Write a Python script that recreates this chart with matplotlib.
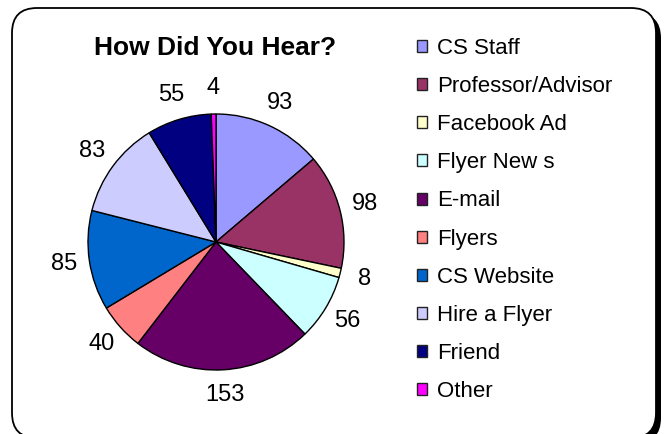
import matplotlib
matplotlib.use("Agg")
import matplotlib.pyplot as plt
from matplotlib.patches import FancyBboxPatch, Rectangle

plt.rcParams['font.family'] = ['Liberation Sans', 'DejaVu Sans']

# data
sources = ["CS Staff", "Professor/Advisor", "Facebook Ad", "Flyer New s", "E-mail",
           "Flyers", "CS Website", "Hire a Flyer", "Friend", "Other"]
counts = [93, 98, 8, 56, 153, 40, 85, 83, 55, 4]
colors = ["#9999FF", "#993366", "#FFFFCC", "#CCFFFF", "#660066",
          "#FF8080", "#0066CC", "#CCCCFF", "#000080", "#FF00FF"]

W, H = 664, 434
fig = plt.figure(figsize=(W / 100, H / 100), dpi=100)

# rounded frame with a drop shadow, drawn in pixel units
bg = fig.add_axes([0, 0, 1, 1])
bg.set_xlim(0, W)
bg.set_ylim(H, 0)
bg.axis('off')
shadow = FancyBboxPatch((17, 13), 644, 430, boxstyle="round,pad=0,rounding_size=25",
                        facecolor='black', edgecolor='black', lw=0)
frame = FancyBboxPatch((12, 8), 644, 430, boxstyle="round,pad=0,rounding_size=25",
                       facecolor='white', edgecolor='black', lw=1.3)
bg.add_patch(shadow)
bg.add_patch(frame)

# pie: centre (216, 242), radius 128 px
cx, cy, r = 216, 242, 128
ax = fig.add_axes([(cx - r) / W, (H - cy - r) / H, 2 * r / W, 2 * r / H])
wedges, texts = ax.pie(counts, colors=colors, startangle=90, counterclock=False,
                       labels=[str(c) for c in counts], labeldistance=1.2,
                       wedgeprops=dict(edgecolor='black', linewidth=1.0),
                       textprops=dict(fontsize=17))
for t in texts:
    t.set_ha('center')
    t.set_va('center')
ax.set_xlim(-1, 1)
ax.set_ylim(-1, 1)

fig.text(215 / W, 1 - 48 / H, "How Did You Hear?", fontsize=19, fontweight='bold',
         ha='center', va='center')

handles = [Rectangle((0, 0), 1, 1, facecolor=c, edgecolor='#222222', lw=1.0) for c in colors]
fig.legend(handles, sources, loc='upper left', bbox_to_anchor=(417 / W, 1 - 38 / H),
           frameon=False, fontsize=16, handlelength=0.45, handleheight=0.45,
           handletextpad=0.45, labelspacing=0.77, borderpad=0, borderaxespad=0)

fig.savefig("out.png", dpi=100)
